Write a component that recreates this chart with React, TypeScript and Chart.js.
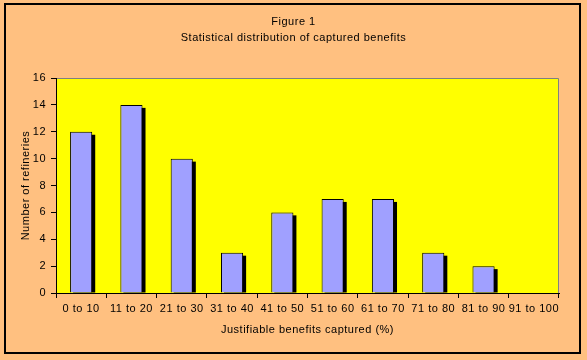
import React, { useEffect, useRef } from "react";
import { Chart, registerables } from "chart.js";

Chart.register(...registerables);

const categories = ["0 to 10", "11 to 20", "21 to 30", "31 to 40", "41 to 50", "51 to 60", "61 to 70", "71 to 80", "81 to 90", "91 to 100"];
const refineries = [12, 14, 10, 3, 6, 7, 7, 3, 2, 0];
const titleLines = ["Figure 1", "Statistical distribution of captured benefits"];
const yTitle = "Number of refineries";
const xTitle = "Justifiable benefits captured (%)";

const FONT = "'Liberation Sans', Arial, sans-serif";

const decorPlugin = {
  id: "decor",
  beforeInit(chart: any) {
    try { chart.ctx.letterSpacing = "0.5px"; } catch (e) {}
  },
  beforeDraw(chart: any) {
    const { ctx, chartArea, width, height } = chart;
    try { ctx.letterSpacing = "0.5px"; } catch (e) {}
    ctx.save();
    ctx.fillStyle = "#FFC080";
    ctx.fillRect(0, 0, width, height);
    ctx.fillStyle = "#FFFF00";
    ctx.fillRect(chartArea.left, chartArea.top, chartArea.right - chartArea.left, chartArea.bottom - chartArea.top);
    ctx.strokeStyle = "#808080";
    ctx.lineWidth = 1;
    ctx.beginPath();
    ctx.moveTo(chartArea.left, chartArea.top + 0.5);
    ctx.lineTo(chartArea.right - 0.5, chartArea.top + 0.5);
    ctx.lineTo(chartArea.right - 0.5, chartArea.bottom);
    ctx.stroke();
    ctx.restore();
  },
  beforeDatasetsDraw(chart: any) {
    const { ctx, chartArea } = chart;
    const meta = chart.getDatasetMeta(0);
    ctx.save();
    ctx.fillStyle = "#000000";
    meta.data.forEach((bar: any) => {
      const { x, y, base, width } = bar.getProps(["x", "y", "base", "width"], true);
      const h = Math.min(base, chartArea.bottom) - (y + 3);
      if (h > 0) ctx.fillRect(x - width / 2 + 3, y + 3, width, h);
    });
    ctx.restore();
  },
  afterDraw(chart: any) {
    const { ctx, width } = chart;
    ctx.save();
    ctx.fillStyle = "#000000";
    ctx.font = `11px ${FONT}`;
    ctx.textAlign = "center";
    ctx.textBaseline = "middle";
    ctx.fillText(titleLines[0], width / 2, 22);
    ctx.fillText(titleLines[1], width / 2, 38);
    ctx.strokeStyle = "#000000";
    ctx.lineWidth = 2;
    ctx.strokeRect(5, 4, 575, 349);
    ctx.restore();
  },
};

export default function App() {
  const ref = useRef<HTMLCanvasElement | null>(null);
  useEffect(() => {
    if (!ref.current) return;
    const chart = new Chart(ref.current, {
      type: "bar",
      data: {
        labels: categories,
        datasets: [
          {
            data: refineries,
            backgroundColor: "#A0A0FF",
            borderColor: "#000000",
            borderWidth: 1,
            borderSkipped: "bottom",
            categoryPercentage: 1,
            barPercentage: 0.44,
          },
        ],
      },
      options: {
        animation: false,
        responsive: false,
        devicePixelRatio: 1,
        layout: { padding: { left: 0, right: 28, top: 78, bottom: 17 } },
        plugins: {
          legend: { display: false },
          title: { display: false },
          tooltip: { enabled: false },
        },
        scales: {
          x: {
            afterFit: (s: any) => { s.height = 50; },
            grid: { display: true, drawOnChartArea: false, offset: true, color: "#000000", tickLength: 5 },
            border: { display: true, color: "#000000", width: 1 },
            ticks: { color: "#000000", font: { family: FONT, size: 11 }, padding: 4, maxRotation: 0, autoSkip: false },
            title: { display: true, text: xTitle, color: "#000000", font: { family: FONT, size: 11 }, padding: { top: 0, bottom: 6 } },
          },
          y: {
            min: 0,
            max: 16,
            afterFit: (s: any) => { s.width = 56; },
            grid: { display: true, drawOnChartArea: false, color: "#000000", tickLength: 5 },
            border: { display: true, color: "#000000", width: 1 },
            ticks: { stepSize: 2, color: "#000000", font: { family: FONT, size: 11 }, padding: 5 },
            title: { display: true, text: yTitle, color: "#000000", font: { family: FONT, size: 11 }, padding: { top: 19, bottom: 0 } },
          },
        },
      },
      plugins: [decorPlugin],
    });
    return () => chart.destroy();
  }, []);
  return (
    <div style={{ position: "fixed", left: 0, top: 0, width: 587, height: 360, background: "#FFC080" }}>
      <canvas ref={ref} width={587} height={360} style={{ display: "block", width: 587, height: 360 }} />
    </div>
  );
}
